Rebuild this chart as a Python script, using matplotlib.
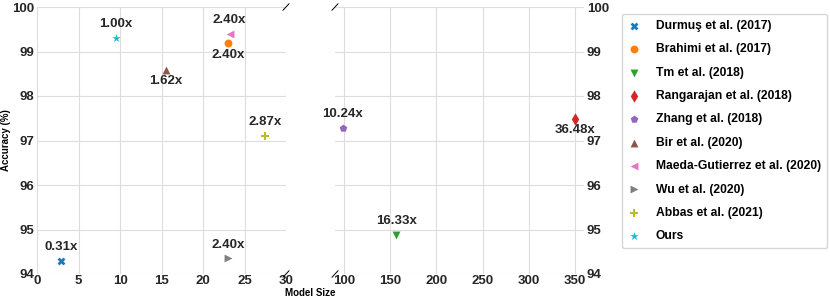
import matplotlib
matplotlib.use('Agg')
from matplotlib import pyplot as plt

plt.rcParams['font.family'] = ['Liberation Sans', 'DejaVu Sans']
plt.rcParams['font.weight'] = 'bold'

# data
names = ['Durmuş et al. (2017)', 'Brahimi et al. (2017)', 'Tm et al. (2018)',
         'Rangarajan et al. (2018)', 'Zhang et al. (2018)', 'Bir et al. (2020)',
         'Maeda-Gutierrez et al. (2020)', 'Wu et al. (2020)', 'Abbas et al. (2021)', 'Ours']
model_size = [2.9, 23.0, 156.5, 350.0, 98.6, 15.5, 23.2, 23.0, 27.5, 9.5]
accuracy = [94.30, 99.18, 94.87, 97.49, 97.28, 98.59, 99.39, 94.35, 97.11, 99.30]
ratio_labels = ['0.31x', '2.40x', '16.33x', '36.48x', '10.24x', '1.62x', '2.40x', '2.40x', '2.87x', '1.00x']
label_above = [True, False, True, False, True, False, True, True, True, True]

markers = ['X', 'o', 'v', 'd', 'p', '^', '<', '>', 'P', '*']
colors = plt.rcParams['axes.prop_cycle'].by_key()['color']

fig = plt.figure(figsize=(8.3, 3.03), dpi=100)
ax1 = fig.add_axes([37/830, 1 - 274/303, 249/830, 267/303])
ax2 = fig.add_axes([335/830, 1 - 274/303, 249/830, 267/303])

handles = []
for ax in (ax1, ax2):
    for i in range(len(names)):
        h = ax.scatter(model_size[i], accuracy[i], marker=markers[i], color=colors[i],
                       s=32 if markers[i] not in ('*', 'd') else 40, zorder=3, label=names[i],
                       linewidths=0)
        if ax is ax1:
            handles.append(h)
        off = 10 if label_above[i] else -8
        ax.annotate(ratio_labels[i], (model_size[i], accuracy[i]), textcoords='offset points',
                    xytext=(0, off), ha='center', va='center', fontsize=9.5,
                    fontweight='bold', color='#262626')

for ax in (ax1, ax2):
    ax.set_ylim(94, 100)
    ax.set_yticks([94, 95, 96, 97, 98, 99, 100])
    ax.grid(True, color='#dddddd', linewidth=0.8)
    ax.set_axisbelow(True)
    for sp in ax.spines.values():
        sp.set_visible(False)
    ax.tick_params(length=0, labelsize=9.5, pad=1, colors='#262626')
    ax.tick_params(axis='y', pad=2)

ax1.set_xlim(0, 30)
ax1.set_xticks([0, 5, 10, 15, 20, 25, 30])
ax2.set_xlim(90, 360)
ax2.set_xticks([100, 150, 200, 250, 300, 350])
ax2.yaxis.tick_right()

ax1.set_ylabel('Accuracy (%)', fontsize=7, fontweight='bold', labelpad=1)
fig.text(310/830, 1 - 293/303, 'Model Size', ha='center', va='center', fontsize=7, fontweight='bold')

# break marks
dx = 0.012
dy = 0.012
kw = dict(color='k', clip_on=False, linewidth=0.7)
ax1.plot((1 - dx, 1 + dx), (1 - dy, 1 + dy), transform=ax1.transAxes, **kw)
ax1.plot((1 - dx, 1 + dx), (-dy, dy), transform=ax1.transAxes, **kw)
ax2.plot((-dx, dx), (1 - dy, 1 + dy), transform=ax2.transAxes, **kw)
ax2.plot((-dx, dx), (-dy, dy), transform=ax2.transAxes, **kw)

fig.legend(handles=handles, loc='upper left', bbox_to_anchor=(622/830, 1 - 14/303),
           frameon=True, edgecolor='#cccccc', fancybox=True, markerscale=1.0,
           labelspacing=0.94, handletextpad=1.3, borderpad=0.5, handlelength=1.0,
           borderaxespad=0, prop={'weight': 'bold', 'size': 8.7})

fig.savefig('out.png', dpi=100)
